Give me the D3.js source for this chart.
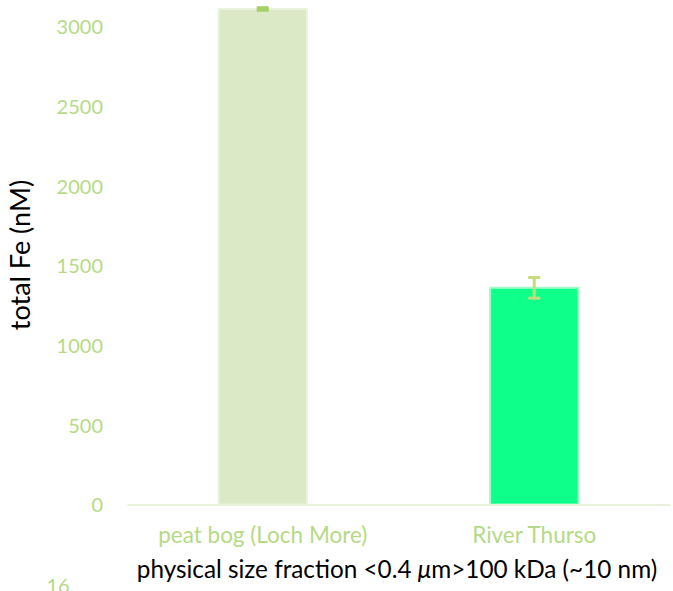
<!DOCTYPE html>
<html>
<head>
<meta charset="utf-8">
<script src="https://cdn.jsdelivr.net/npm/d3@7"></script>
<style>
  html, body { margin: 0; padding: 0; background: #ffffff; }
  svg { display: block; }
</style>
</head>
<body>
<svg id="chart" width="673" height="591"></svg>
<script>
// Total Fe in the <0.4 µm / >100 kDa size fraction
const categories = ["peat bog (Loch More)", "River Thurso"];
const totalFe = [3110, 1360];
const errors = [8, 65];
const barFills = ["#dce9c6", "#0fff8b"];
const barEdges = ["#e9f2dd", "#9dfcc6"];
const errColors = ["#a8d069", "#c3dc7c"];
const yTicks = [0, 500, 1000, 1500, 2000, 2500, 3000];
const yTitle = "total Fe (nM)";
const xTitle = ["physical size fraction <0.4 ", "\u03BC", "m>100 kDa (~10 nm)"];
const strayLabel = "16";

const svg = d3.select("#chart");
const font = "Lato, 'Open Sans', sans-serif";
const labelGreen = "#b5da86";

const x = d3.scaleBand().domain(categories).range([127, 670]).padding(0);
const y = d3.scaleLinear().domain([0, 3000]).range([504.5, 26.5]);
const barW = x.bandwidth() * 0.325;

// y tick labels (no axis line, no tick marks)
const yAxis = d3.axisLeft(y).tickValues(yTicks).tickSize(0).tickPadding(0).tickFormat(d3.format("d"));
const gy = svg.append("g").attr("transform", "translate(103,0)").call(yAxis);
gy.select(".domain").remove();
gy.selectAll("text")
  .attr("fill", labelGreen)
  .attr("font-family", font)
  .attr("font-size", 20)
  .attr("dy", "0.36em");

// bars
svg.selectAll("rect.bar")
  .data(categories)
  .join("rect")
  .attr("class", "bar")
  .attr("x", d => x(d) + x.bandwidth() / 2 - barW / 2)
  .attr("width", barW)
  .attr("y", (d, i) => y(totalFe[i]))
  .attr("height", (d, i) => y(0) - y(totalFe[i]))
  .attr("fill", (d, i) => barFills[i])
  .attr("stroke", (d, i) => barEdges[i])
  .attr("stroke-width", 2);

// category axis line and labels
const xAxis = d3.axisBottom(x).tickSize(0).tickPadding(0);
const gx = svg.append("g").attr("transform", `translate(0,${y(0)})`).call(xAxis);
gx.select(".domain").attr("stroke", "#e8f1dc").attr("stroke-width", 2);
gx.selectAll("text")
  .attr("fill", labelGreen)
  .attr("font-family", font)
  .attr("font-size", 22.5)
  .attr("y", 38.5)
  .attr("dy", 0);

// error bars
const capW = 12;
const eg = svg.selectAll("g.err").data(categories).join("g").attr("class", "err")
  .attr("stroke", (d, i) => errColors[i]).attr("stroke-width", 3);
eg.append("line")
  .attr("x1", d => x(d) + x.bandwidth() / 2).attr("x2", d => x(d) + x.bandwidth() / 2)
  .attr("y1", (d, i) => y(totalFe[i] + errors[i])).attr("y2", (d, i) => y(totalFe[i] - errors[i]));
eg.append("line")
  .attr("x1", d => x(d) + x.bandwidth() / 2 - capW / 2).attr("x2", d => x(d) + x.bandwidth() / 2 + capW / 2)
  .attr("y1", (d, i) => y(totalFe[i] + errors[i])).attr("y2", (d, i) => y(totalFe[i] + errors[i]));
eg.append("line")
  .attr("x1", d => x(d) + x.bandwidth() / 2 - capW / 2).attr("x2", d => x(d) + x.bandwidth() / 2 + capW / 2)
  .attr("y1", (d, i) => y(totalFe[i] - errors[i])).attr("y2", (d, i) => y(totalFe[i] - errors[i]));

// axis titles
svg.append("text")
  .attr("transform", "translate(30,255) rotate(-90)")
  .attr("text-anchor", "middle")
  .attr("font-family", font)
  .attr("font-size", 27)
  .attr("fill", "#000")
  .text(yTitle);

const xt = svg.append("text")
  .attr("x", 397)
  .attr("y", 578)
  .attr("text-anchor", "middle")
  .attr("font-family", font)
  .attr("font-size", 24.3)
  .attr("fill", "#000");
xt.append("tspan").text(xTitle[0]);
xt.append("tspan").attr("font-style", "italic").text(xTitle[1]);
xt.append("tspan").text(xTitle[2]);

svg.append("text")
  .attr("x", 58)
  .attr("y", 593)
  .attr("text-anchor", "middle")
  .attr("font-family", font)
  .attr("font-size", 20)
  .attr("fill", labelGreen)
  .text(strayLabel);
</script>
</body>
</html>
